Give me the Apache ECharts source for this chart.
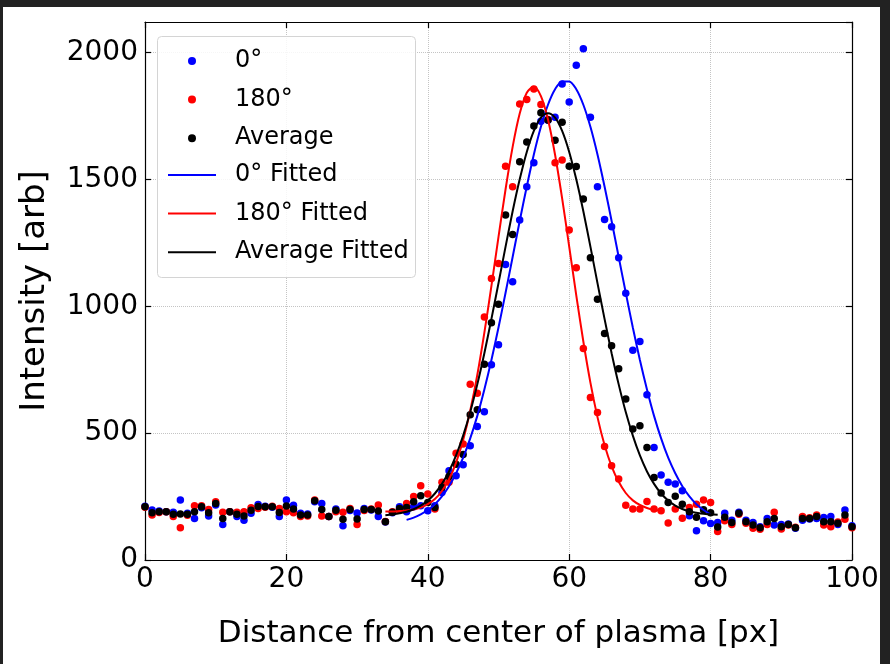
<!DOCTYPE html>
<html>
<head>
<meta charset="utf-8">
<script src="https://cdn.jsdelivr.net/npm/echarts@6/dist/echarts.min.js"></script>
<style>
html,body{margin:0;padding:0;background:#222;}
#bg{position:absolute;left:3px;top:7px;width:877px;height:657px;background:#fff;}
#c{position:absolute;left:0;top:0;width:890px;height:664px;}
</style>
</head>
<body>
<div id="bg"></div>
<div id="c"></div>
<script>
// ---- data ----
const xTicks = [0, 20, 40, 60, 80, 100];
const yTicks = [0, 500, 1000, 1500, 2000];
const positions = Array.from({length: 101}, (_, i) => i); // pixel positions 0..100

const blue0 = [212,197,193,190,188,236,184,164,206,173,217,140,190,171,157,184,219,212,208,171,
  236,216,184,181,230,223,171,201,135,195,185,203,197,171,150,186,210,190,210,214,
  194,214,266,352,332,375,450,526,584,769,848,1164,1096,1340,1471,1565,1729,1733,1745,1876,
  1805,1950,2015,1745,1471,1342,1313,1191,1051,827,861,651,443,335,306,299,273,174,115,155,
  144,148,184,157,188,157,148,131,164,138,140,142,125,157,162,164,167,171,140,197,135];

const red180 = [208,177,187,190,171,127,176,214,214,199,230,188,190,188,190,206,203,208,212,203,
  190,186,171,173,236,173,171,190,188,203,140,195,201,217,152,190,196,223,250,293,
  260,201,306,306,421,457,693,657,958,1109,1168,1552,1471,1797,1815,1856,1795,1736,1565,1576,
  1300,1152,833,640,581,447,371,319,216,201,201,231,201,194,146,201,165,207,220,236,
  227,112,155,140,180,145,125,121,140,188,122,138,129,171,166,177,138,131,150,161,127];

const avgVals = [210,186,190,190,180,181,180,190,210,186,223,164,190,180,173,196,211,210,210,187,
  213,201,177,177,233,199,171,196,161,199,162,199,199,193,151,188,203,207,230,253,
  227,207,286,329,377,416,572,592,771,935,1008,1359,1283,1569,1647,1710,1762,1734,1654,1725,
  1552,1551,1423,1191,1027,893,844,754,634,516,529,443,325,264,227,251,220,190,168,198,
  186,130,168,148,184,151,138,127,151,164,131,140,127,164,164,171,151,151,145,177,131];

const blueFitStart = 37;
const blueFit = [158,167,180,197,220,251,291,342,403,479,568,672,788,916,1053,1194,1336,1472,1598,1707,
  1794,1855,1886,1886,1855,1794,1707,1598,1472,1336,1194,1053,916,788,672,568,479,403,342,291,
  251,220,197,180];

const redFitStart = 34;
const redFit = [191,191,193,195,199,207,220,240,272,318,384,473,588,729,896,1080,1273,1461,1628,1759,
  1841,1865,1828,1736,1597,1425,1235,1043,861,699,563,453,369,308,264,235,217,205,198,194];

const avgFitStart = 34;
const avgFit = [176,179,184,190,200,214,234,262,300,349,412,490,583,692,815,950,1091,1235,1374,1500,
  1608,1691,1743,1760,1743,1691,1608,1500,1374,1235,1091,950,815,692,583,490,412,349,300,262,
  234,214,201,191,186,182,180,178];

const names = ['0°', '180°', 'Average', '0° Fitted', '180° Fitted', 'Average Fitted'];

// ---- build chart ----
const FONT = "'DejaVu Sans', 'Liberation Sans', sans-serif";
const pairs = (xs, ys) => ys.map((v, i) => [xs[i], v]);
const fitPairs = (start, ys) => ys.map((v, i) => [start + i, v]);

const chart = echarts.init(document.getElementById('c'), null, {renderer: 'canvas'});

const axisLine = {show: true, onZero: false, lineStyle: {color: '#000', width: 1.2}};
const tick = {show: true, inside: true, length: 6, lineStyle: {color: '#000', width: 1.2}};
const grid = {show: true, lineStyle: {color: '#c4c4c4', type: 'dotted', width: 1}};
const yMax = 2120;
const legendText = {fontSize: 24, color: '#000', fontFamily: FONT, lineHeight: 30, padding: [0, 0, 0, 14]};

const option = {
  animation: false,
  backgroundColor: 'transparent',
  grid: {left: 145, right: 38, top: 22, bottom: 104, containLabel: false},
  xAxis: [
    {type: 'value', min: xTicks[0], max: xTicks[xTicks.length - 1], interval: xTicks[1] - xTicks[0],
     position: 'bottom', axisLine, axisTick: tick, splitLine: grid,
     axisLabel: {fontSize: 28, color: '#000', margin: 6, fontFamily: FONT},
     name: 'Distance from center of plasma [px]', nameLocation: 'middle', nameGap: 58,
     nameTextStyle: {fontSize: 31, color: '#000', fontFamily: FONT}},
    {type: 'value', min: xTicks[0], max: xTicks[xTicks.length - 1], interval: xTicks[1] - xTicks[0],
     position: 'top', axisLine, axisTick: tick, splitLine: {show: false}, axisLabel: {show: false}}
  ],
  yAxis: [
    {type: 'value', min: yTicks[0], max: yMax, interval: yTicks[1] - yTicks[0],
     position: 'left', axisLine, axisTick: tick, splitLine: grid,
     axisLabel: {fontSize: 28, color: '#000', margin: 7, fontFamily: FONT, showMaxLabel: false,
       formatter: v => (yTicks.indexOf(v) >= 0 ? String(v) : '')},
     name: 'Intensity [arb]', nameLocation: 'middle', nameGap: 93, nameRotate: 90,
     nameTextStyle: {fontSize: 34, color: '#000', fontFamily: FONT}},
    {type: 'value', min: yTicks[0], max: yMax, interval: yTicks[1] - yTicks[0],
     position: 'right', axisLine, axisTick: tick, splitLine: {show: false}, axisLabel: {show: false}}
  ],
  legend: [
    {data: names.slice(0, 3), orient: 'vertical', left: 183, top: 41, itemWidth: 48, itemHeight: 8,
     itemGap: 8.6, icon: 'circle', selectedMode: false, z: 6, textStyle: legendText},
    {data: names.slice(3), orient: 'vertical', left: 163, top: 155, itemWidth: 48, itemHeight: 2,
     itemGap: 8.6, icon: 'rect', selectedMode: false, z: 6, textStyle: legendText}
  ],
  graphic: [
    {type: 'rect', left: 157, top: 36, z: 5,
     shape: {width: 258, height: 241, r: 4},
     style: {fill: 'rgba(255,255,255,0.85)', stroke: '#d4d4d4', lineWidth: 1}}
  ],
  series: [
    {name: names[0], type: 'scatter', data: pairs(positions, blue0), symbolSize: 7.5,
     itemStyle: {color: '#0000ff', opacity: 1}},
    {name: names[1], type: 'scatter', data: pairs(positions, red180), symbolSize: 7.5,
     itemStyle: {color: '#ff0000', opacity: 1}},
    {name: names[2], type: 'scatter', data: pairs(positions, avgVals), symbolSize: 7.5,
     itemStyle: {color: '#000000', opacity: 1}},
    {name: names[3], type: 'line', data: fitPairs(blueFitStart, blueFit), showSymbol: false, symbol: 'none',
     smooth: 0.3, lineStyle: {color: '#0000ff', width: 2}, itemStyle: {color: '#0000ff'}},
    {name: names[4], type: 'line', data: fitPairs(redFitStart, redFit), showSymbol: false, symbol: 'none',
     smooth: 0.3, lineStyle: {color: '#ff0000', width: 2}, itemStyle: {color: '#ff0000'}},
    {name: names[5], type: 'line', data: fitPairs(avgFitStart, avgFit), showSymbol: false, symbol: 'none',
     smooth: 0.3, lineStyle: {color: '#000000', width: 2}, itemStyle: {color: '#000000'}}
  ]
};
chart.setOption(option);
</script>
</body>
</html>
